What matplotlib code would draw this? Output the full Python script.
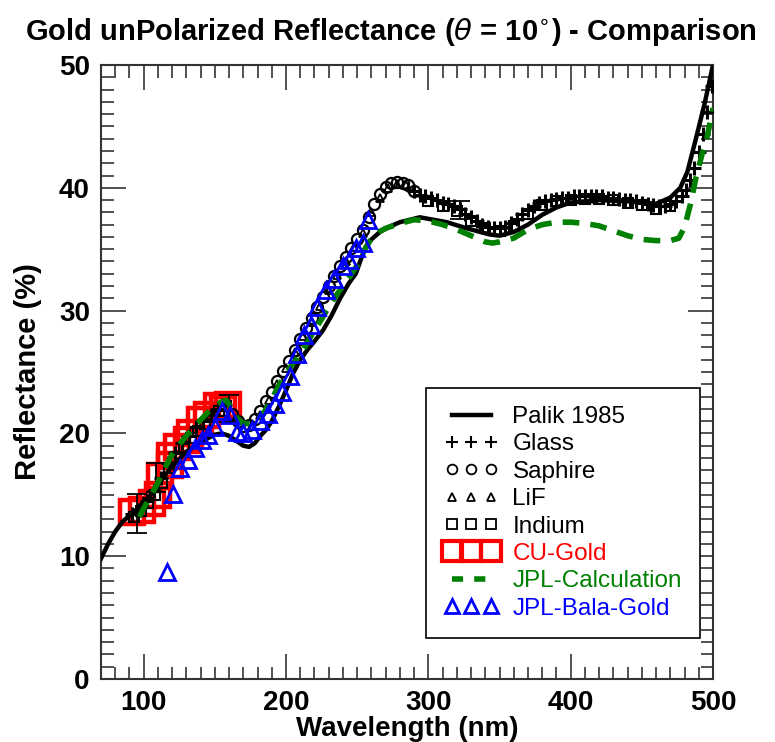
import matplotlib
matplotlib.use("Agg")
import matplotlib.pyplot as plt
from matplotlib.lines import Line2D
from matplotlib.ticker import MultipleLocator

plt.rcParams['font.family'] = ['Liberation Sans', 'DejaVu Sans']
plt.rcParams['mathtext.fontset'] = 'dejavusans'

# Palik 1985 (solid line)
palik_wl = [70, 75, 80, 85, 90, 95, 100, 105, 110, 115, 120, 125, 130, 135, 140, 145, 150, 155,
            160, 165, 170, 174, 178, 182, 186, 190, 195, 200, 205, 210, 215, 220, 226, 232, 238,
            244, 249, 253, 256, 260, 266, 272, 280, 294, 313, 327, 343, 350, 360, 370, 380, 390,
            400, 420, 440, 460, 470, 477, 482, 488, 494, 500]
palik_r = [9.8, 11.0, 12.0, 12.8, 13.3, 13.8, 14.4, 15.0, 15.8, 16.6, 17.3, 17.9, 18.5, 18.9,
           19.3, 19.6, 19.9, 20.0, 19.8, 19.4, 19.0, 18.9, 19.2, 19.8, 20.3, 21.0, 22.2, 23.5,
           24.9, 26.0, 26.8, 27.5, 28.4, 29.6, 31.0, 32.2, 33.0, 34.3, 35.2, 35.8, 36.4, 36.8,
           37.2, 37.6, 37.2, 36.7, 36.2, 36.1, 36.4, 37.0, 37.8, 38.4, 38.8, 39.0, 38.9, 38.7,
           39.2, 40.0, 41.3, 44.0, 46.8, 50.0]

# Glass (+)
glass_wl = [92, 97, 102, 107, 112, 117, 122, 127, 132, 137, 142, 147, 152, 157,
            290, 294, 298, 302, 306, 310, 314, 318, 322, 326, 330, 334, 338, 342, 346, 350,
            354, 358, 362, 366, 370, 374, 378, 382, 386, 390, 394, 398, 402, 406, 410, 414,
            418, 422, 426, 430, 434, 438, 442, 446, 450, 454, 458, 462, 466, 470, 474, 478,
            481, 484, 487, 490, 493, 496, 499]
glass_r = [13.4, 13.8, 14.5, 15.3, 16.4, 17.6, 18.4, 19.2, 19.8, 20.5, 21.0, 21.5, 22.0, 22.3,
           39.7, 39.4, 39.3, 39.2, 39.0, 38.8, 38.7, 38.5, 38.3, 37.9, 37.6, 37.3, 37.0, 36.8,
           36.7, 36.7, 36.8, 37.1, 37.5, 37.9, 38.2, 38.5, 38.8, 38.9, 39.0, 39.1, 39.2, 39.2,
           39.3, 39.3, 39.3, 39.3, 39.3, 39.3, 39.2, 39.2, 39.1, 39.0, 39.0, 38.9, 38.8, 38.7,
           38.6, 38.5, 38.5, 38.7, 38.9, 39.3, 39.8, 40.6, 41.6, 42.9, 44.4, 46.2, 48.3]

# Saphire (o)
saph_wl = [162, 166, 170, 174, 178, 182, 186, 190, 194, 198, 202, 206, 210, 214, 218, 222,
           226, 230, 234, 238, 242, 246, 250, 254, 258, 262, 266, 270, 274, 278, 282, 286, 290]
saph_r = [21.6, 21.0, 20.6, 20.7, 21.2, 21.8, 22.6, 23.4, 24.3, 25.1, 25.9, 26.8, 27.7, 28.6,
          29.4, 30.3, 31.1, 32.0, 32.8, 33.6, 34.4, 35.1, 35.8, 36.6, 37.6, 38.7, 39.5, 40.1,
          40.4, 40.5, 40.4, 40.2, 39.7]

# LiF (small triangles)
lif_wl = [164, 170, 176, 182, 188, 194, 200, 206, 212, 218, 224, 230, 236, 242, 248, 254,
          260, 266, 272, 278, 284]
lif_r = [21.2, 20.4, 20.6, 21.5, 22.7, 24.0, 25.3, 26.6, 27.9, 29.1, 30.4, 31.7, 32.9, 34.0,
         35.2, 36.3, 38.0, 39.2, 40.0, 40.3, 40.2]

# Indium (small squares)
ind_wl = [93, 98, 103, 108, 113, 118, 123, 128, 133, 138, 143, 148, 153, 158,
          300, 310, 320, 330, 340, 350, 360, 370, 380, 390, 400, 410, 420, 430, 440, 450, 460, 470]
ind_r = [13.2, 13.7, 14.3, 15.0, 16.0, 17.2, 18.1, 18.9, 19.6, 20.2, 20.8, 21.3, 21.8, 22.2,
         38.9, 38.5, 38.1, 37.3, 36.7, 36.5, 36.9, 37.9, 38.6, 38.9, 39.0, 39.1, 39.1, 39.0,
         38.8, 38.6, 38.3, 38.5]

# error bars on a few measured points
err_wl = [95, 109, 160, 322]
err_r = [13.5, 16.4, 22.0, 38.2]
err_val = [1.6, 1.2, 1.1, 0.7]

# CU-Gold (big red squares)
cu_wl = [91.5, 98.6, 105.6, 110.3, 111.5, 118.5, 118.5, 123.2, 130.2, 132.5, 139.6, 144.3,
         151.3, 155.5, 159.4]
cu_r = [13.6, 13.8, 14.3, 15.0, 16.5, 17.4, 18.2, 18.9, 19.5, 20.0, 21.1, 21.5, 22.2, 22.0, 22.3]

# JPL-Calculation (green dashed)
jpl_wl = [97, 100, 105, 110, 115, 120, 125, 130, 135, 140, 145, 150, 155, 158, 162, 166, 170,
          175, 180, 185, 190, 195, 200, 205, 210, 215, 220, 225, 230, 235, 240, 245, 250, 255,
          260, 265, 270, 275, 280, 290, 300, 310, 320, 330, 340, 345, 350, 360, 370, 380, 390,
          400, 410, 420, 430, 440, 450, 460, 470, 476, 480, 484, 488, 492, 496, 500]
jpl_r = [13.2, 13.9, 14.9, 16.0, 17.2, 18.3, 19.1, 19.8, 20.5, 21.1, 21.7, 22.2, 22.6, 22.7,
         22.0, 21.2, 20.8, 20.8, 21.1, 21.8, 22.8, 23.9, 24.9, 25.7, 26.4, 27.4, 28.4, 29.3,
         30.3, 31.2, 32.0, 32.8, 33.7, 34.9, 35.9, 36.4, 36.7, 36.9, 37.1, 37.4, 37.3, 37.0,
         36.6, 36.1, 35.6, 35.5, 35.6, 35.9, 36.6, 37.0, 37.2, 37.2, 37.1, 36.9, 36.5, 36.1,
         35.8, 35.7, 35.7, 35.9, 36.8, 38.6, 40.8, 42.6, 44.2, 46.5]

# JPL-Bala-Gold (blue open triangles)
bala_wl = [116.1, 120.8, 125.5, 131.4, 136.0, 140.8, 145.4, 150.1, 154.8, 160.6, 165.3, 170.0,
           175.9, 181.7, 187.6, 192.5, 197.5, 202.5, 208.0, 212.6, 217.3, 222.0, 227.9, 233.8,
           239.7, 244.4, 249.1, 253.8, 257.5]
bala_r = [8.7, 15.1, 17.2, 17.8, 18.8, 19.5, 19.9, 20.5, 21.8, 21.5, 20.1, 20.0, 20.3, 21.0,
          21.6, 22.4, 23.4, 24.7, 26.5, 28.0, 28.8, 30.3, 31.7, 32.6, 33.6, 34.1, 35.1, 35.5, 37.4]

red = '#ff0000'
green = '#008000'
blue = '#0000ff'

fig = plt.figure(figsize=(7.75, 7.42), dpi=100)
ax = fig.add_axes([0.1303, 0.0849, 0.7897, 0.8275])

ax.plot(palik_wl, palik_r, '-', color='k', lw=3.2, zorder=3)
ax.plot(cu_wl, cu_r, 's', ms=17, mfc='none', mec=red, mew=3.2, zorder=2)
ax.errorbar(err_wl, err_r, yerr=err_val, fmt='none', ecolor='k', elinewidth=1.3,
            capsize=7, capthick=1.3, zorder=4)
ax.plot(ind_wl, ind_r, 's', ms=7, mfc='none', mec='k', mew=1.5, zorder=4)
ax.plot(glass_wl, glass_r, '+', color='k', ms=10, mew=2.2, zorder=4)
ax.plot(saph_wl, saph_r, 'o', ms=8, mfc='none', mec='k', mew=1.6, zorder=4)
ax.plot(lif_wl, lif_r, '^', ms=6, mfc='none', mec='k', mew=1.3, zorder=4)
ax.plot(jpl_wl, jpl_r, '--', color=green, lw=4, dashes=(3, 2), zorder=5)
ax.plot(bala_wl, bala_r, '^', ms=12, mfc='none', mec=blue, mew=2, zorder=6)

ax.set_xlim(70, 500)
ax.set_ylim(0, 50)
ax.xaxis.set_major_locator(MultipleLocator(100))
ax.xaxis.set_minor_locator(MultipleLocator(10))
ax.yaxis.set_major_locator(MultipleLocator(10))
ax.yaxis.set_minor_locator(MultipleLocator(1))
ax.tick_params(which='both', direction='in', top=True, right=True, width=1.2, color='#333333')
ax.tick_params(which='major', length=18, labelsize=20, pad=8)
ax.tick_params(which='minor', length=9)
for lab in ax.get_xticklabels() + ax.get_yticklabels():
    lab.set_fontweight('bold')
for sp in ax.spines.values():
    sp.set_linewidth(1.5)
    sp.set_color('#333333')

ax.set_xlabel('Wavelength (nm)', fontsize=20, fontweight='bold', labelpad=0)
ax.set_ylabel('Reflectance (%)', fontsize=21, fontweight='bold', labelpad=12)
fig.text(0.505, 0.957, r'Gold unPolarized Reflectance ($\theta$ = 10$^{\circ}$) - Comparison',
         ha='center', va='center', fontsize=21, fontweight='bold')

handles = [
    Line2D([], [], color='k', lw=3.2),
    Line2D([], [], ls='none', marker='+', color='k', ms=9, mew=1.5),
    Line2D([], [], ls='none', marker='o', mfc='none', mec='k', ms=7, mew=1.3),
    Line2D([], [], ls='none', marker='^', mfc='none', mec='k', ms=6, mew=1.3),
    Line2D([], [], ls='none', marker='s', mfc='none', mec='k', ms=7, mew=1.3),
    Line2D([], [], ls='none', marker='s', mfc='none', mec=red, ms=14, mew=3),
    Line2D([], [], color=green, lw=4, ls='--', dashes=(2, 2)),
    Line2D([], [], ls='none', marker='^', mfc='none', mec=blue, ms=10, mew=2),
]
labels = ['Palik 1985', 'Glass', 'Saphire', 'LiF', 'Indium', 'CU-Gold', 'JPL-Calculation',
          'JPL-Bala-Gold']
leg = ax.legend(handles, labels, loc='lower right', bbox_to_anchor=(0.979, 0.067),
                borderaxespad=0, numpoints=3, fontsize=17.5, handlelength=2.2,
                labelspacing=0.22, handletextpad=0.6, borderpad=0.75, fancybox=False,
                framealpha=1, edgecolor='k')
leg.get_frame().set_linewidth(1.2)
text_colors = ['k', 'k', 'k', 'k', 'k', red, green, blue]
for t, c in zip(leg.get_texts(), text_colors):
    t.set_color(c)

fig.savefig('out.png', dpi=100)
